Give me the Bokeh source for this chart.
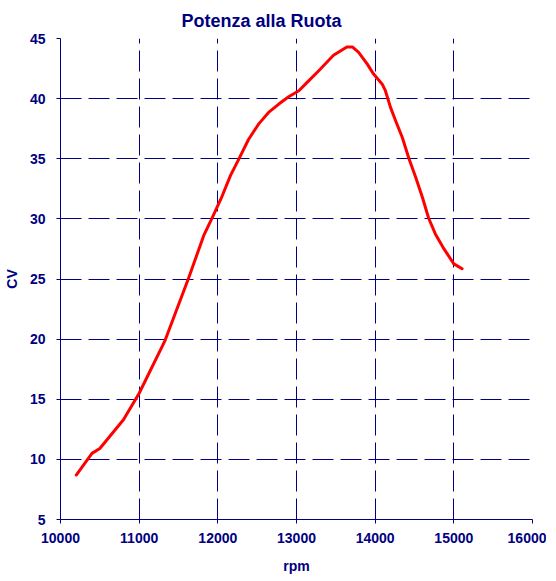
from bokeh.plotting import figure
from bokeh.models import Range1d, FixedTicker, NumeralTickFormatter, Title
from bokeh.embed import file_html
from bokeh.resources import INLINE

# Data
rpm = [10200, 10400, 10500, 10800, 11000, 11330, 11630, 11820, 11925, 12055,
       12160, 12265, 12390, 12520, 12645, 12775, 12900, 13030, 13135, 13280,
       13470, 13640, 13710, 13790, 13900, 13980, 14090, 14130, 14195, 14260,
       14345, 14430, 14515, 14600, 14680, 14765, 14875, 15000, 15105]
cv = [8.7, 10.5, 10.9, 13.3, 15.5, 19.9, 25.1, 28.6, 30.05, 31.9,
      33.6, 34.95, 36.6, 37.9, 38.85, 39.55, 40.15, 40.66, 41.35, 42.3,
      43.6, 44.3, 44.3, 43.84, 42.87, 42.04, 41.2, 40.66, 39.27, 38.16,
      36.77, 35.0, 33.46, 31.8, 30.05, 28.75, 27.5, 26.26, 25.85]
x_ticks = [10000, 11000, 12000, 13000, 14000, 15000, 16000]
y_ticks = [5, 10, 15, 20, 25, 30, 35, 40, 45]

NAVY = "#000080"
FONT = "Liberation Sans"

p = figure(frame_width=472, frame_height=481, output_backend="svg", toolbar_location=None,
           x_range=Range1d(10000, 16000), y_range=Range1d(5, 45),
           min_border_left=54, min_border_right=14, min_border_top=30,
           min_border_bottom=40, background_fill_color="white",
           border_fill_color="white", outline_line_color=None)

t = Title(text="Potenza alla Ruota", align="left", offset=121,
          text_font=FONT, text_font_size="18px", text_font_style="bold",
          text_color=NAVY, standoff=16)
p.add_layout(t, "above")

p.line(rpm, cv, line_color="#ff0000", line_width=3, line_join="round", line_cap="round")

for ax in (p.xaxis[0], p.yaxis[0]):
    ax.axis_line_color = NAVY
    ax.axis_line_width = 1
    ax.major_tick_line_color = NAVY
    ax.major_tick_in = 0
    ax.major_tick_out = 4
    ax.minor_tick_line_color = None
    ax.major_label_text_font = FONT
    ax.major_label_text_font_size = "14px"
    ax.major_label_text_font_style = "bold"
    ax.major_label_text_color = NAVY
    ax.axis_label_text_font = FONT
    ax.axis_label_text_font_size = "14px"
    ax.axis_label_text_font_style = "bold"
    ax.axis_label_text_color = NAVY
    ax.formatter = NumeralTickFormatter(format="0")

p.xaxis[0].ticker = FixedTicker(ticks=x_ticks)
p.yaxis[0].ticker = FixedTicker(ticks=y_ticks)
p.xaxis[0].axis_label = "rpm"
p.yaxis[0].axis_label = "CV"
p.xaxis[0].major_label_standoff = 9
p.xaxis[0].axis_label_standoff = 12
p.yaxis[0].major_label_standoff = 11
p.yaxis[0].axis_label_standoff = 7

for g in (p.xgrid[0], p.ygrid[0]):
    g.grid_line_color = NAVY
    g.grid_line_width = 1
    g.grid_line_dash = "21 7"
p.xgrid[0].ticker = FixedTicker(ticks=x_ticks)
p.ygrid[0].ticker = FixedTicker(ticks=y_ticks)

open("out.html", "w").write(file_html(p, INLINE))
